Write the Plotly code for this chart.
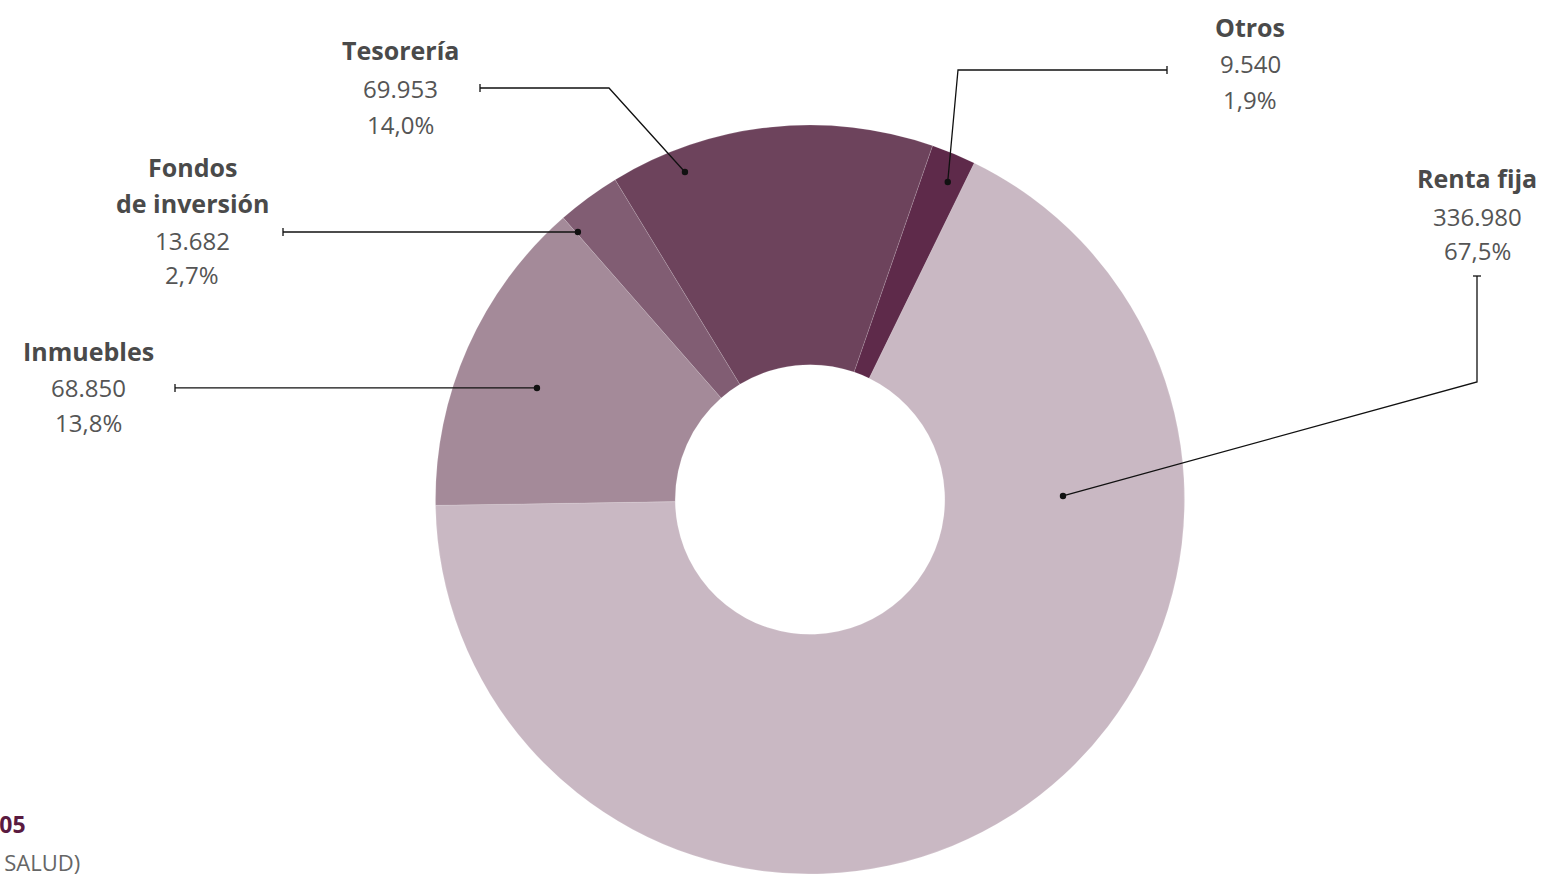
import math
import plotly.graph_objects as go

# ---------------- data ----------------
categories = ["Renta fija", "Inmuebles", "Fondos de inversión", "Tesorería", "Otros"]
values = [336980, 68850, 13682, 69953, 9540]
title_lines = [["Renta fija"], ["Inmuebles"], ["Fondos", "de inversión"], ["Tesorería"], ["Otros"]]
colors = ["#c9b8c3", "#a48a99", "#815d73", "#6d435c", "#5e2a4a"]

# ---------------- layout constants (pixels) ----------------
W, H = 1546, 874
CX, CY, R = 810, 501, 376
HOLE = 0.36
ROTATION = 26

total = sum(values)
fmt_val = lambda v: f"{v:,}".replace(",", ".")
fmt_pct = lambda v: f"{100 * v / total:.1f}".replace(".", ",") + "%"

# callout style per slice: dot angle offset from mid-angle (deg), radius fraction,
# elbow point, end point, tick orientation, label centre x, label line ys
callouts = [
    dict(off=-58.7, rf=0.673, elbow=(1477, 382), end=(1477, 276), tick="h", cx=1477, ys=[178, 216, 250]),
    dict(off=-1.45, rf=0.786, elbow=None, end=(175, None), tick="v", cx=88, ys=[351, 387, 422]),
    dict(off=-4.5, rf=0.945, elbow=None, end=(283, None), tick="v", cx=192, ys=[167, 203, 240, 274]),
    dict(off=-14.7, rf=0.936, elbow=(609, 88), end=(480, 88), tick="v", cx=400, ys=[50, 88, 124]),
    dict(off=0.8, rf=0.924, elbow=(958, 70), end=(1167, 70), tick="v", cx=1250, ys=[27, 63, 99]),
]

fig = go.Figure()

fig.add_trace(go.Pie(
    labels=categories, values=values, sort=False, direction="clockwise",
    rotation=ROTATION, hole=HOLE, textinfo="none", hoverinfo="label+value+percent",
    marker=dict(colors=colors, line=dict(color="rgba(255,255,255,0.25)", width=0.6)),
    domain=dict(x=[(CX - R) / W, (CX + R) / W], y=[0, (H - (CY - R)) / H]),
    showlegend=False,
))

# invisible pixel-space axes for callouts
fig.add_trace(go.Scatter(x=[0, W], y=[0, H], mode="markers", marker=dict(opacity=0),
                         hoverinfo="skip", showlegend=False))

shapes = []
annotations = []
cum = 0
for i, v in enumerate(values):
    mid = ROTATION + (cum + v / 2) / total * 360
    cum += v
    c = callouts[i]
    th = math.radians(mid + c["off"])
    dx = CX + c["rf"] * R * math.sin(th)
    dy = CY - c["rf"] * R * math.cos(th)
    ex, ey = c["end"]
    if ey is None:
        ey = dy
    pts = [(dx, dy)]
    if c["elbow"]:
        pts.append(c["elbow"])
    pts.append((ex, ey))
    path = "M " + " L ".join(f"{x:.1f},{y:.1f}" for x, y in pts)
    shapes.append(dict(type="path", path=path, xref="x", yref="y",
                       line=dict(color="#111111", width=1.3)))
    shapes.append(dict(type="circle", xref="x", yref="y", x0=dx - 3.2, x1=dx + 3.2,
                       y0=dy - 3.2, y1=dy + 3.2, fillcolor="#111111", line=dict(width=0)))
    if c["tick"] == "v":
        shapes.append(dict(type="line", xref="x", yref="y", x0=ex, x1=ex, y0=ey - 4, y1=ey + 4,
                           line=dict(color="#111111", width=1.3)))
    else:
        shapes.append(dict(type="line", xref="x", yref="y", x0=ex - 4, x1=ex + 4, y0=ey, y1=ey,
                           line=dict(color="#111111", width=1.3)))
    lines = [(t, True) for t in title_lines[i]] + [(fmt_val(v), False), (fmt_pct(v), False)]
    for (txt, bold), y in zip(lines, c["ys"]):
        annotations.append(dict(
            x=c["cx"], y=y, xref="x", yref="y", showarrow=False,
            text=f"<b>{txt}</b>" if bold else txt,
            font=dict(family="Open Sans", size=25 if bold else 24,
                      color="#4a4a4a" if bold else "#555555"),
            xanchor="center", yanchor="middle",
        ))

# clipped footer texts at bottom-left (cut by the page edge, as in the source)
annotations.append(dict(x=28, y=824, xref="x", yref="y", showarrow=False, text="<b>2005</b>",
                        font=dict(family="Open Sans", size=23, color="#5a1a40"),
                        xanchor="right", yanchor="middle"))
annotations.append(dict(x=82, y=862, xref="x", yref="y", showarrow=False, text="(MAPFRE SALUD)",
                        font=dict(family="Open Sans", size=22, color="#666666"),
                        xanchor="right", yanchor="middle"))

fig.update_layout(
    width=W, height=H, margin=dict(l=0, r=0, t=0, b=0),
    paper_bgcolor="white", plot_bgcolor="rgba(0,0,0,0)",
    xaxis=dict(range=[0, W], visible=False, fixedrange=True, domain=[0, 1]),
    yaxis=dict(range=[H, 0], visible=False, fixedrange=True, domain=[0, 1]),
    shapes=shapes, annotations=annotations,
)

fig.write_html("out.html", config={"displayModeBar": False},
               post_script="document.body.style.margin='0';")
